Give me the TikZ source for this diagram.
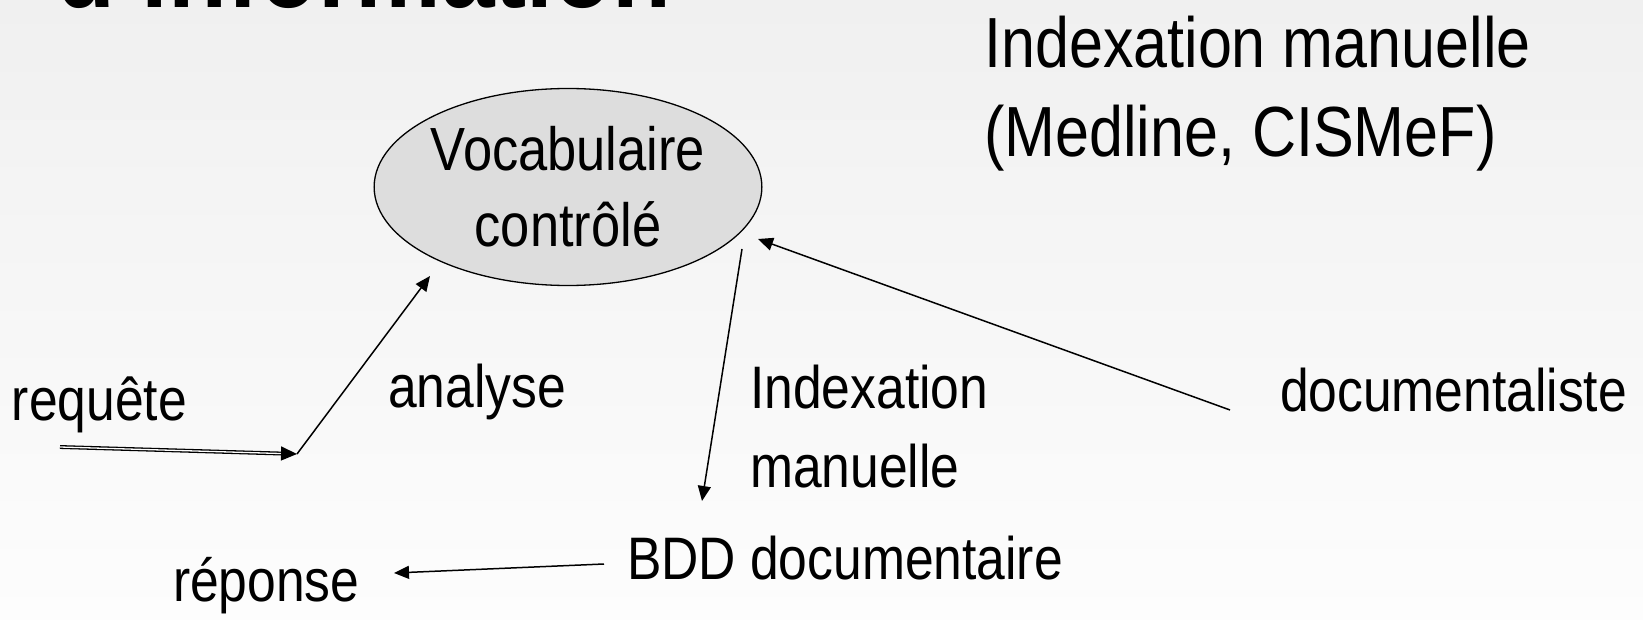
\documentclass[tikz,border=0pt]{standalone}
\usepackage{fontspec}
\setmainfont{Liberation Sans}[FakeStretch=0.86]
\usetikzlibrary{shapes.geometric,arrows.meta}
\definecolor{bgtop}{RGB}{240,240,240}
\definecolor{bgbot}{RGB}{253,253,253}
\definecolor{ellfill}{RGB}{221,221,221}
\begin{document}
\begin{tikzpicture}[x=1pt,y=-1pt,
  txt/.style={inner sep=0pt, outer sep=0pt, anchor=base west, font=\fontsize{60}{79}\selectfont},
  conn/.style={line width=1.5pt, -{Triangle[length=15pt,width=13pt]}},
]
\useasboundingbox (0,0) rectangle (1643,620);
\shade[top color=bgtop, bottom color=bgbot] (0,0) rectangle (1643,620);

% title (cut off at top)
\node[txt, font=\fontsize{112}{112}\selectfont\bfseries] (title) at (56,8) {d'information};

% top right text
\node[inner sep=0pt, anchor=north west, align=left, font=\fontsize{71}{89}\selectfont] (topr) at (984,16) {Indexation manuelle\\(Medline, CISMeF)};

% controlled vocabulary
\node[ellipse, draw=black, line width=1.3pt, fill=ellfill, minimum width=376pt, minimum height=197pt, inner sep=0pt, align=center, font=\fontsize{61}{76}\selectfont] (voc) at (568,187) {Vocabulaire\\contr\^ol\'e};

\node[txt] (req) at (12,420) {requête};
\node[txt] (ana) at (388,407) {analyse};
\node[inner sep=0pt, anchor=north west, align=left, font=\fontsize{60}{79}\selectfont] (idx) at (750,365) {Indexation\\manuelle};
\node[txt] (doc) at (1280,411) {documentaliste};
\node[txt] (bdd) at (627,579) {BDD documentaire};
\node[txt] (rep) at (173,601) {réponse};

% connector end points
\coordinate (rqs) at (60,447);
\coordinate (junc) at (297,454);
\coordinate (anae) at (430,276);
\coordinate (idxs) at (742,249);
\coordinate (idxe) at (702,501);
\coordinate (docs) at (1230,410);
\coordinate (doce) at (758,239);
\coordinate (bdds) at (604,564);
\coordinate (repe) at (394,573);

\draw[line width=1.3pt, double=bgbot, double distance=1.3pt, -{Triangle[length=16pt,width=14pt]}] (rqs) -- (junc);
\draw[conn] (junc) -- (anae);
\draw[conn] (idxs) -- (idxe);
\draw[conn] (docs) -- (doce);
\draw[conn] (bdds) -- (repe);
\end{tikzpicture}
\end{document}
